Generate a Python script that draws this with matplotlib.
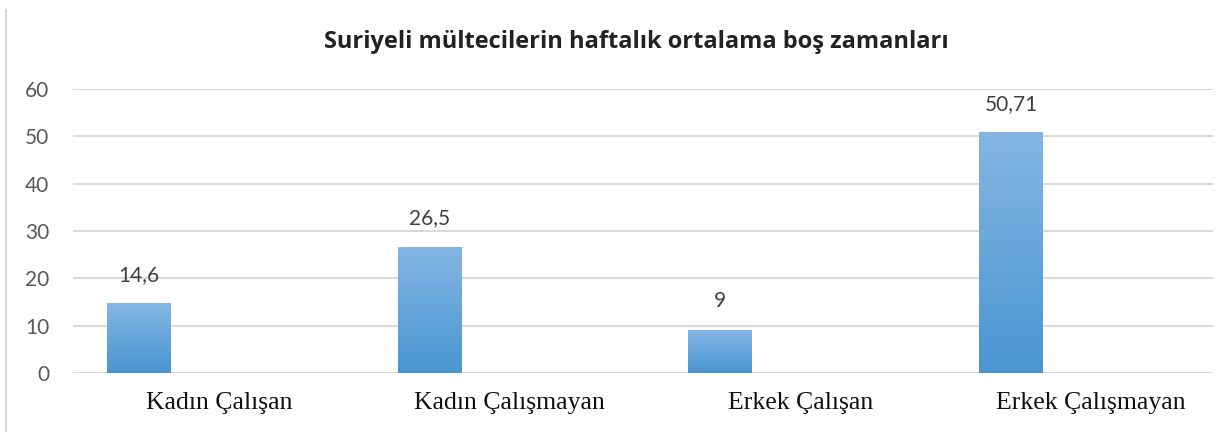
import numpy as np
import matplotlib
matplotlib.use("Agg")
import matplotlib.pyplot as plt
from matplotlib.lines import Line2D
from matplotlib.colors import LinearSegmentedColormap

categories = ["Kadın Çalışan", "Kadın Çalışmayan", "Erkek Çalışan", "Erkek Çalışmayan"]
values = [14.6, 26.5, 9, 50.71]
value_labels = ["14,6", "26,5", "9", "50,71"]
yticks = [0, 10, 20, 30, 40, 50, 60]

fig = plt.figure(figsize=(12.18, 4.32), dpi=100)
ax = fig.add_axes([73 / 1218, 1 - 373 / 432, 1140 / 1218, 284 / 432])

x = np.arange(len(categories))
bar_w = 0.22
bars = ax.bar(x, values, width=bar_w, color="none", zorder=3)

# vertical gradient inside each bar
cmap = LinearSegmentedColormap.from_list("blu", ["#4A95D2", "#84B6E3"])
grad = np.linspace(0, 1, 256).reshape(-1, 1)
for b in bars:
    x0, y0 = b.get_x(), b.get_y()
    w, h = b.get_width(), b.get_height()
    ax.imshow(grad, cmap=cmap, origin="lower", aspect="auto",
              extent=(x0, x0 + w, y0, y0 + h), zorder=3)

for xi, v, lab in zip(x, values, value_labels):
    ax.annotate(lab, (xi, v), xytext=(0, 21), textcoords="offset points",
                ha="center", va="center", fontsize=15, color="#404040",
                family="Lato")

ax.set_xlim(-0.227, 3.695)
ax.set_ylim(0, 60)
ax.set_yticks(yticks)
ax.set_yticklabels([str(t) for t in yticks], fontsize=15, color="#595959", family="Lato")
ax.set_xticks(x + 0.275)
ax.set_xticklabels(categories, fontsize=18.5, family="Liberation Serif", color="#111111")
ax.tick_params(axis="both", length=0)
ax.tick_params(axis="y", pad=17)
ax.tick_params(axis="x", pad=14)

ax.grid(axis="y", color="#D9D9D9", linewidth=1.5, zorder=0)
for s in ax.spines.values():
    s.set_visible(False)

fig.text(636 / 1218, 1 - 48 / 432, "Suriyeli mültecilerin haftalık ortalama boş zamanları",
         ha="center", va="baseline", fontsize=17, fontweight="bold", color="#222222",
         family="Open Sans")

fig.add_artist(Line2D([6 / 1218, 6 / 1218], [0, 1 - 10 / 432], color="#D9D9D9", linewidth=1.5))

fig.savefig("out.png", dpi=100)
